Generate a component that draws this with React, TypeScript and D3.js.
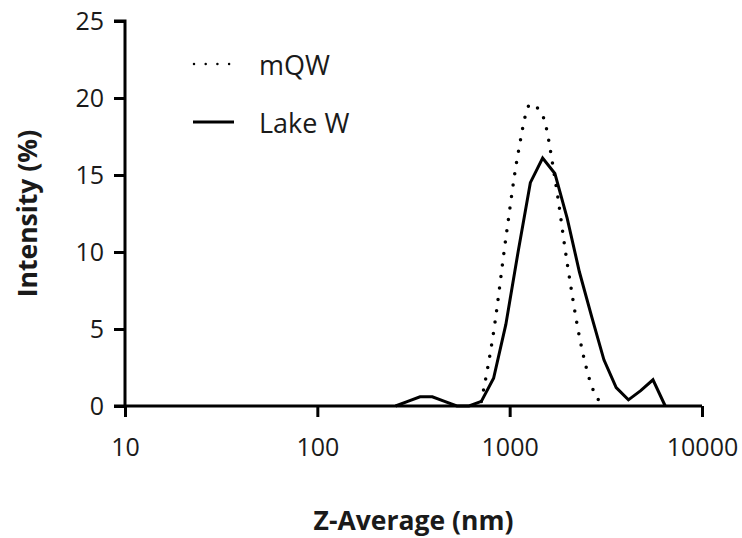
import React, { useEffect, useRef } from "react";
import * as d3 from "d3";

// DLS size bins (nm) and intensity (%) per bin
const sizes = [
  255.0, 295.3, 342.0, 396.1, 458.7, 531.2, 615.1, 712.4, 825.0, 955.4, 1106,
  1281, 1484, 1718, 1990, 2305, 2669, 3091, 3580, 4145, 4801, 5560, 6439,
];
const mQW = [
  null, null, null, null, null, null, null, 0.3, 4.8, 10.9, 16.4, 19.6, 18.85,
  14.8, 9.3, 4.5, 1.3, 0, null, null, null, null, null,
];
const lakeW = [
  0, 0.3, 0.6, 0.6, 0.3, 0, 0, 0.3, 1.8, 5.3, 10.0, 14.5, 16.1, 15.1, 12.2, 8.7,
  5.8, 3.0, 1.2, 0.4, 1.0, 1.7, 0,
];
const xTicks = [10, 100, 1000, 10000];
const yTicks = [0, 5, 10, 15, 20, 25];
const seriesNames = ["mQW", "Lake W"];

const W = 742;
const H = 538;
const FONT = "'Open Sans', sans-serif";

export default function App() {
  const svgRef = useRef<SVGSVGElement>(null);

  useEffect(() => {
    const svg = d3.select(svgRef.current);
    svg.selectAll("*").remove();

    const x = d3.scaleLog().domain([10, 10000]).range([125, 702]);
    const y = d3.scaleLinear().domain([0, 25]).range([406, 21]);

    // axes
    const xAxis = svg
      .append("g")
      .attr("transform", `translate(0,${y(0)})`)
      .call(
        d3
          .axisBottom(x)
          .tickValues(xTicks)
          .tickFormat((d) => String(d))
          .tickSize(11)
          .tickPadding(21)
      );
    const yAxis = svg
      .append("g")
      .attr("transform", `translate(${x(10)},0)`)
      .call(d3.axisLeft(y).tickValues(yTicks).tickSize(11).tickPadding(10));

    [xAxis, yAxis].forEach((g) => {
      g.select(".domain").attr("stroke", "#000").attr("stroke-width", 3);
      g.selectAll(".tick line").attr("stroke", "#000").attr("stroke-width", 3);
      g.selectAll(".tick text")
        .attr("fill", "#1a1a1a")
        .style("font-family", FONT)
        .style("font-size", "25px");
    });
    xAxis.select(".domain").attr("d", `M${x(10) - 11},0H${x(10000)}`);
    yAxis.select(".domain").attr("d", `M0,${y(0)}V${y(25)}H-11`);

    // axis titles
    svg
      .append("text")
      .attr("x", (x(10) + x(10000)) / 2)
      .attr("y", 530)
      .attr("text-anchor", "middle")
      .attr("fill", "#1a1a1a")
      .style("font-family", FONT)
      .style("font-size", "26.5px")
      .style("font-weight", "bold")
      .text("Z-Average (nm)");

    svg
      .append("text")
      .attr("transform", `translate(37,${(y(0) + y(25)) / 2}) rotate(-90)`)
      .attr("text-anchor", "middle")
      .attr("fill", "#1a1a1a")
      .style("font-family", FONT)
      .style("font-size", "26.5px")
      .style("font-weight", "bold")
      .text("Intensity (%)");

    // lines
    const idx = d3.range(sizes.length);
    const dotted = d3
      .line<number>()
      .defined((i) => mQW[i] != null)
      .x((i) => x(sizes[i]))
      .y((i) => y(mQW[i] as number))
      .curve(d3.curveMonotoneX);
    const solid = d3
      .line<number>()
      .x((i) => x(sizes[i]))
      .y((i) => y(lakeW[i]));

    svg
      .append("path")
      .attr("d", dotted(idx))
      .attr("fill", "none")
      .attr("stroke", "#000")
      .attr("stroke-width", 3.5)
      .attr("stroke-linecap", "round")
      .attr("stroke-dasharray", "0 11.5");

    svg
      .append("path")
      .attr("d", solid(idx))
      .attr("fill", "none")
      .attr("stroke", "#000")
      .attr("stroke-width", 3)
      .attr("stroke-linejoin", "miter");

    // legend
    const legend = svg.append("g");
    const rows = [64, 122];
    legend
      .append("line")
      .attr("x1", 194)
      .attr("x2", 230)
      .attr("y1", rows[0])
      .attr("y2", rows[0])
      .attr("stroke", "#000")
      .attr("stroke-width", 2.5)
      .attr("stroke-linecap", "round")
      .attr("stroke-dasharray", "0 11.7");
    legend
      .append("line")
      .attr("x1", 193)
      .attr("x2", 234)
      .attr("y1", rows[1])
      .attr("y2", rows[1])
      .attr("stroke", "#000")
      .attr("stroke-width", 3);
    seriesNames.forEach((name, i) => {
      legend
        .append("text")
        .attr("x", 259)
        .attr("y", rows[i] + 11)
        .attr("fill", "#1a1a1a")
        .style("font-family", FONT)
        .style("font-size", "27px")
        .text(name);
    });
  }, []);

  return (
    <svg
      ref={svgRef}
      width={W}
      height={H}
      style={{ position: "absolute", left: 0, top: 0, background: "#fff" }}
    />
  );
}
